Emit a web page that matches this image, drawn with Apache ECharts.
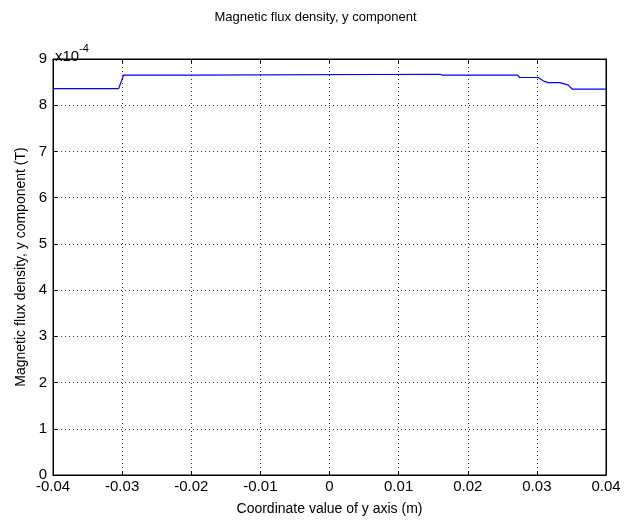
<!DOCTYPE html>
<html>
<head>
<meta charset="utf-8">
<script src="https://cdn.jsdelivr.net/npm/echarts@6/dist/echarts.min.js"></script>
<style>
  html, body { margin: 0; padding: 0; background: #fff; }
  #chart { width: 631px; height: 524px; }
</style>
</head>
<body>
<div id="chart"></div>
<script>
// coordinate along y axis (m)
var coordY = [-0.04, -0.0305, -0.0298, -0.0202, -0.0200, 0.0160, 0.0163, 0.0272, 0.0275, 0.0302, 0.0309, 0.0316, 0.0333, 0.0345, 0.0351, 0.04];
// By, in units of 1e-4 T
var fluxBy = [8.36, 8.36, 8.65, 8.65, 8.67, 8.67, 8.65, 8.65, 8.60, 8.60, 8.53, 8.49, 8.49, 8.44, 8.35, 8.35];
var xTicks = ['-0.04', '-0.03', '-0.02', '-0.01', '0', '0.01', '0.02', '0.03', '0.04'];

var font = 'Liberation Sans';
var points = coordY.map(function (x, i) { return [x, fluxBy[i]]; });

var chart = echarts.init(document.getElementById('chart'));
var gridLine = { show: true, lineStyle: { color: '#333', type: [1, 3], width: 1 } };
var tickIn = { show: true, inside: true, length: 4, lineStyle: { color: '#000' } };
var frame = { show: true, onZero: false, lineStyle: { color: '#000' } };

chart.setOption({
  animation: false,
  title: [
    {
      text: 'Magnetic flux density, y component',
      left: 'center', top: 6,
      textStyle: { fontFamily: font, fontSize: 13, fontWeight: 'normal', color: '#000' }
    },
    {
      text: '{a|x10}{b|-4}',
      left: 50, top: 38,
      textStyle: {
        rich: {
          a: { fontFamily: font, fontSize: 15, fontWeight: 'normal', color: '#000', verticalAlign: 'bottom' },
          b: { fontFamily: font, fontSize: 11, fontWeight: 'normal', color: '#000', verticalAlign: 'top', padding: [0, 0, 10, 0] }
        }
      }
    }
  ],
  grid: { left: 53, right: 25, top: 59, bottom: 49, show: true, borderColor: '#000', borderWidth: 1 },
  xAxis: [
    {
      type: 'value', min: -0.04, max: 0.04, interval: 0.01,
      name: 'Coordinate value of y axis (m)', nameLocation: 'middle', nameGap: 27,
      nameTextStyle: { fontFamily: font, fontSize: 14, color: '#000' },
      axisLine: frame,
      axisTick: tickIn,
      axisLabel: {
        fontFamily: font, fontSize: 15, color: '#000', margin: 4,
        formatter: function (v) { return xTicks[Math.round((v + 0.04) / 0.01)]; }
      },
      splitLine: gridLine
    },
    {
      type: 'value', min: -0.04, max: 0.04, interval: 0.01, position: 'top',
      axisLine: frame,
      axisTick: tickIn, axisLabel: { show: false }, splitLine: { show: false }
    }
  ],
  yAxis: [
    {
      type: 'value', min: 0, max: 9, interval: 1,
      name: 'Magnetic flux density, y component (T)', nameLocation: 'middle', nameGap: 25,
      nameTextStyle: { fontFamily: font, fontSize: 14, color: '#000' },
      axisLine: frame,
      axisTick: tickIn,
      axisLabel: { fontFamily: font, fontSize: 15, color: '#000', margin: 6 },
      splitLine: gridLine
    },
    {
      type: 'value', min: 0, max: 9, interval: 1, position: 'right',
      axisLine: frame,
      axisTick: tickIn, axisLabel: { show: false }, splitLine: { show: false }
    }
  ],
  series: [{
    type: 'line',
    data: points,
    showSymbol: false,
    lineStyle: { color: '#0000ff', width: 1.2 }
  }]
});
</script>
</body>
</html>
